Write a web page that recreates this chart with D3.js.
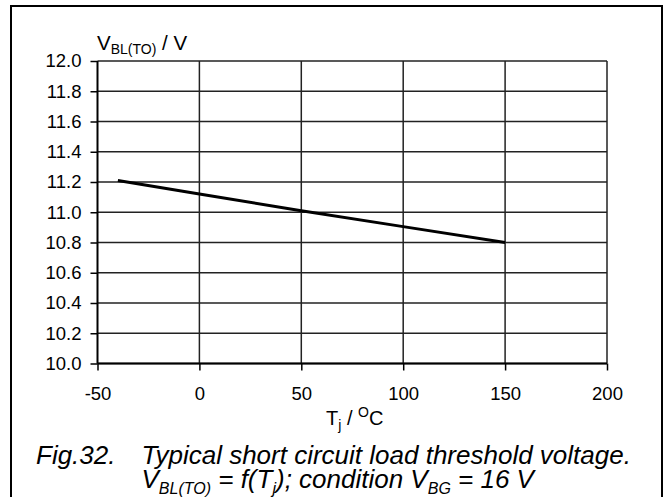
<!DOCTYPE html>
<html>
<head>
<meta charset="utf-8">
<script src="https://cdn.jsdelivr.net/npm/d3@7"></script>
<style>
  html, body { margin: 0; padding: 0; background: #fff; }
  svg { display: block; }
  text { font-family: "Liberation Sans", Arial, Helvetica, sans-serif; fill: #000; }
</style>
</head>
<body>
<svg id="chart" width="667" height="497"></svg>
<script>
// ---- data ----
const temps = [-40, 0, 50, 100, 150];           // Tj / °C
const vbl = [11.21, 11.12, 11.01, 10.905, 10.80]; // V_BL(TO) / V
const xTicks = [-50, 0, 50, 100, 150, 200];
const yTicks = [10.0, 10.2, 10.4, 10.6, 10.8, 11.0, 11.2, 11.4, 11.6, 11.8, 12.0];

const svg = d3.select("#chart");

// outer frame
svg.append("rect")
  .attr("x", 11).attr("y", 6).attr("width", 651).attr("height", 520)
  .attr("fill", "none").attr("stroke", "#000").attr("stroke-width", 2);

const x = d3.scaleLinear().domain([-50, 200]).range([97.5, 607]);
const y = d3.scaleLinear().domain([10, 12]).range([363.5, 61]);

// gridlines
const grid = svg.append("g").attr("stroke", "#222").attr("stroke-width", 1.5);
grid.selectAll("line.h").data(yTicks).join("line")
  .attr("x1", x(-50)).attr("x2", x(200))
  .attr("y1", d => y(d)).attr("y2", d => y(d));
grid.selectAll("line.v").data(xTicks.filter(d => d > -50)).join("line")
  .attr("x1", d => x(d)).attr("x2", d => x(d))
  .attr("y1", y(10)).attr("y2", y(12));

// axes
const yAxis = svg.append("g")
  .attr("transform", `translate(${x(-50)},0)`)
  .call(d3.axisLeft(y).tickValues(yTicks).tickFormat(d => d.toFixed(1)).tickSize(7).tickPadding(9));
const xAxis = svg.append("g")
  .attr("transform", `translate(0,${y(10)})`)
  .call(d3.axisBottom(x).tickValues(xTicks).tickFormat(d => String(d)).tickSize(7).tickPadding(16));

[yAxis, xAxis].forEach(a => {
  a.select(".domain").attr("stroke", "#000").attr("stroke-width", 2);
  a.selectAll(".tick line").attr("stroke", "#000").attr("stroke-width", 1.5);
  a.selectAll(".tick text").attr("font-size", 18.5).attr("fill", "#000")
    .attr("font-family", '"Liberation Sans", Arial, Helvetica, sans-serif');
});
xAxis.select(".domain").attr("d", `M${x(-50)},0H${x(200)}`);
yAxis.select(".domain").attr("d", `M0,${y(10)}V${y(12)}`);

// curve
const pts = temps.map((t, i) => [t, vbl[i]]);
svg.append("path")
  .datum(pts)
  .attr("fill", "none").attr("stroke", "#000").attr("stroke-width", 3)
  .attr("d", d3.line().x(d => x(d[0])).y(d => y(d[1])));

// y title
const yt = svg.append("text").attr("x", 97).attr("y", 49.5).attr("font-size", 20.5);
yt.append("tspan").text("V");
yt.append("tspan").attr("font-size", 14).attr("dy", 4).text("BL(TO)");
yt.append("tspan").attr("dy", -4).text(" / V");

// x title
const xt = svg.append("text").attr("x", 326).attr("y", 425).attr("font-size", 20);
xt.append("tspan").text("T");
xt.append("tspan").attr("font-size", 14).attr("dy", 5).text("j");
xt.append("tspan").attr("dy", -5).text(" / ");
xt.append("tspan").attr("font-size", 14).attr("dy", -8).text("O");
xt.append("tspan").attr("dy", 8).text("C");

// caption
const cap1 = svg.append("text").attr("y", 464).attr("font-size", 26).attr("font-style", "italic");
cap1.append("tspan").attr("x", 36).text("Fig.32.");
cap1.append("tspan").attr("x", 141.5).text("Typical short circuit load threshold voltage.");

const cap2 = svg.append("text").attr("x", 141.5).attr("y", 488).attr("font-size", 26).attr("font-style", "italic");
cap2.append("tspan").text("V");
cap2.append("tspan").attr("font-size", 16).attr("dy", 6).text("BL(TO)");
cap2.append("tspan").attr("dy", -6).text(" = f(T");
cap2.append("tspan").attr("font-size", 16).attr("dy", 6).text("j");
cap2.append("tspan").attr("dy", -6).text("); condition V");
cap2.append("tspan").attr("font-size", 16).attr("dy", 6).text("BG");
cap2.append("tspan").attr("dy", -6).text(" = 16 V");
</script>
</body>
</html>
